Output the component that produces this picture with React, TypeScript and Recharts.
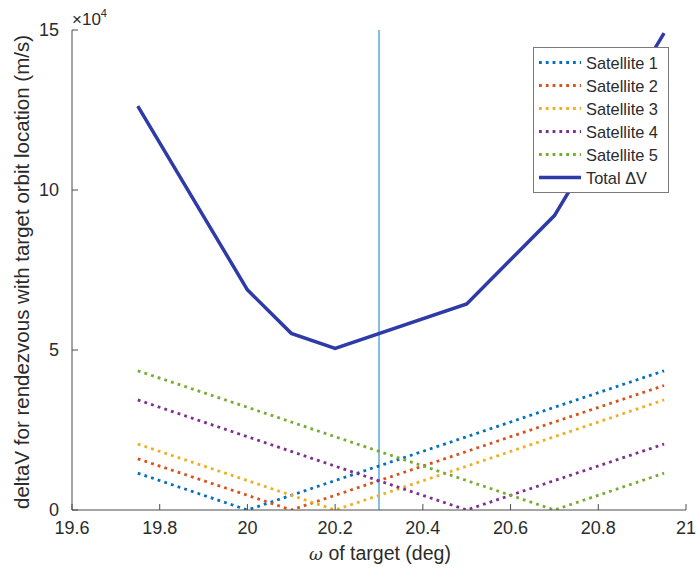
import React from "react";
import { LineChart, Line, XAxis, YAxis, ReferenceLine, Legend } from "recharts";

const omega = [19.75, 20.0, 20.1, 20.2, 20.5, 20.7, 20.95];
const sat1 = [1.15, 0, 0.46, 0.92, 2.29, 3.21, 4.35];
const sat2 = [1.6, 0.46, 0, 0.46, 1.83, 2.75, 3.89];
const sat3 = [2.06, 0.92, 0.46, 0, 1.37, 2.29, 3.44];
const sat4 = [3.44, 2.29, 1.83, 1.37, 0, 0.92, 2.06];
const sat5 = [4.35, 3.21, 2.75, 2.29, 0.92, 0, 1.15];
const totalDV = [12.62, 6.88, 5.52, 5.05, 6.44, 9.2, 14.9];

const xTicks = [19.6, 19.8, 20, 20.2, 20.4, 20.6, 20.8, 21];
const yTicks = [0, 5, 10, 15];
const markerOmega = 20.3;

const seriesDefs = [
  { key: "s1", name: "Satellite 1", color: "#0072BD", values: sat1, dotted: true },
  { key: "s2", name: "Satellite 2", color: "#D95319", values: sat2, dotted: true },
  { key: "s3", name: "Satellite 3", color: "#EDB120", values: sat3, dotted: true },
  { key: "s4", name: "Satellite 4", color: "#7E2F8E", values: sat4, dotted: true },
  { key: "s5", name: "Satellite 5", color: "#77AC30", values: sat5, dotted: true },
  { key: "total", name: "Total \u0394V", color: "#2E3BA6", values: totalDV, dotted: false },
];

const data = omega.map((w, i) => {
  const row: Record<string, number> = { w };
  seriesDefs.forEach((s) => {
    row[s.key] = s.values[i];
  });
  return row;
});

const FONT = "'Liberation Sans', Arial, sans-serif";
const AXIS = "#4d4d4d";
const TEXT = "#2b2b2b";
const TICK_FS = 18;

const XTick = (props: any) => {
  const { x, y, payload } = props;
  return (
    <g>
      <line x1={x} y1={y} x2={x} y2={y - 6} stroke={AXIS} strokeWidth={1} />
      <text x={x} y={y + 24} textAnchor="middle" fontSize={TICK_FS} fill={TEXT} fontFamily={FONT}>
        {String(payload.value)}
      </text>
    </g>
  );
};

const YTick = (props: any) => {
  const { x, y, payload } = props;
  return (
    <g>
      <line x1={x} y1={y} x2={x + 6} y2={y} stroke={AXIS} strokeWidth={1} />
      <text x={x - 13} y={y + 6} textAnchor="end" fontSize={TICK_FS} fill={TEXT} fontFamily={FONT}>
        {String(payload.value)}
      </text>
    </g>
  );
};

const LegendBox = () => (
  <svg width={136} height={146} style={{ display: "block", overflow: "visible" }}>
    <rect x={0.5} y={0.5} width={135} height={145} fill="#ffffff" stroke="#7a7a7a" strokeWidth={1} />
    {seriesDefs.map((s, i) => {
      const cy = 15.5 + i * 23;
      return (
        <g key={s.key}>
          <line
            x1={6}
            y1={cy}
            x2={48}
            y2={cy}
            stroke={s.color}
            strokeWidth={s.dotted ? 2.8 : 3.5}
            strokeDasharray={s.dotted ? "2.8 4" : undefined}
          />
          <text x={53} y={cy + 6} fontSize={16.4} fill={TEXT} fontFamily={FONT}>
            {s.name}
          </text>
        </g>
      );
    })}
  </svg>
);

export default function App() {
  return (
    <div style={{ position: "absolute", left: 0, top: 0, width: 697, height: 574, background: "#fff" }}>
      <LineChart width={697} height={574} data={data} margin={{ top: 30, right: 11, bottom: 0, left: 0 }}>
        <XAxis
          dataKey="w"
          type="number"
          domain={[19.6, 21]}
          ticks={xTicks}
          interval={0}
          height={64}
          stroke={AXIS}
          tickLine={false}
          tickSize={0}
          tickMargin={0}
          tick={<XTick />}
          allowDataOverflow
        />
        <YAxis
          type="number"
          domain={[0, 15]}
          ticks={yTicks}
          interval={0}
          width={72}
          stroke={AXIS}
          tickLine={false}
          tickSize={0}
          tickMargin={0}
          tick={<YTick />}
          allowDataOverflow
        />
        <ReferenceLine x={markerOmega} stroke="#4DA3E0" strokeWidth={1.4} />
        {seriesDefs.map((s) => (
          <Line
            key={s.key}
            dataKey={s.key}
            name={s.name}
            type="linear"
            stroke={s.color}
            strokeWidth={s.dotted ? 2.8 : 3.5}
            strokeDasharray={s.dotted ? "2.8 4.2" : undefined}
            dot={false}
            activeDot={false}
            isAnimationActive={false}
          />
        ))}
        <Legend
          layout="vertical"
          verticalAlign="top"
          align="right"
          content={<LegendBox />}
          wrapperStyle={{ position: "absolute", left: 533, top: 47, width: 0, height: 0, overflow: "visible" }}
        />
      </LineChart>
      <div
        style={{
          position: "absolute",
          left: 72,
          top: 4,
          fontFamily: FONT,
          fontSize: 17,
          color: TEXT,
          whiteSpace: "nowrap",
          lineHeight: "20px",
        }}
      >
        {"\u00d710"}
        <sup style={{ fontSize: 11, position: "relative", top: -1 }}>4</sup>
      </div>
      <div
        style={{
          position: "absolute",
          left: 0,
          top: 541,
          width: 760,
          textAlign: "center",
          fontFamily: FONT,
          fontSize: 19.5,
          color: TEXT,
          lineHeight: "24px",
        }}
      >
        <span style={{ fontStyle: "italic", fontFamily: "'DejaVu Serif', serif", fontSize: 17 }}>{"\u03c9"}</span>
        {" of target (deg)"}
      </div>
      <div
        style={{
          position: "absolute",
          left: 22,
          top: 272,
          transform: "translate(-50%, -50%) rotate(-90deg)",
          fontFamily: FONT,
          fontSize: 20.5,
          color: TEXT,
          whiteSpace: "nowrap",
        }}
      >
        deltaV for rendezvous with target orbit location (m/s)
      </div>
    </div>
  );
}
